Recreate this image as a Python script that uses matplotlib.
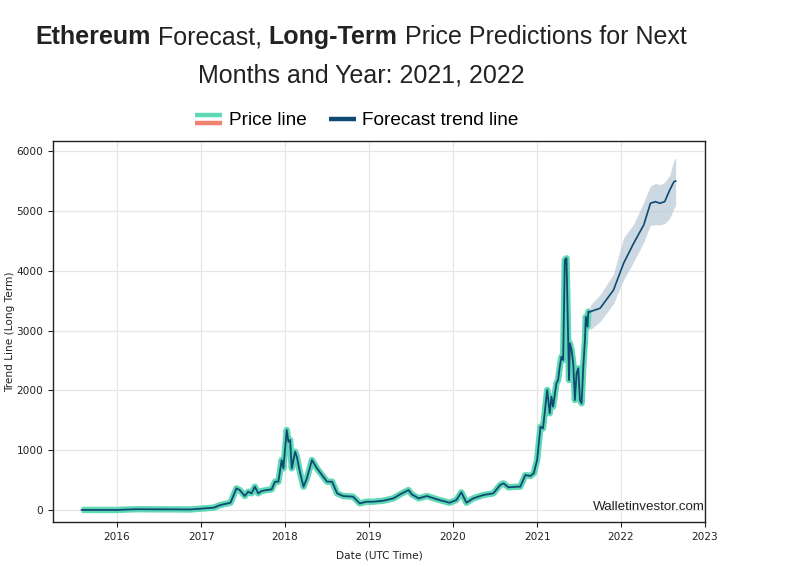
import matplotlib
matplotlib.use("Agg")
import matplotlib.pyplot as plt
import matplotlib.dates as mdates
from matplotlib.legend_handler import HandlerBase
from matplotlib.lines import Line2D
import pandas as pd
import numpy as np

# ---------------- data ----------------
price_years = [2015.58, 2015.75, 2016.0, 2016.15, 2016.25, 2016.45, 2016.7, 2016.87,
               2017.15, 2017.23, 2017.35, 2017.42, 2017.46, 2017.52, 2017.56, 2017.60,
               2017.64, 2017.68, 2017.72, 2017.78, 2017.84, 2017.88, 2017.92, 2017.96,
               2017.98, 2018.02, 2018.04, 2018.06, 2018.08, 2018.12, 2018.14, 2018.18,
               2018.22, 2018.26, 2018.32, 2018.38, 2018.44, 2018.50, 2018.56, 2018.62,
               2018.69, 2018.81, 2018.89, 2018.97, 2019.05, 2019.17, 2019.29, 2019.37,
               2019.47, 2019.51, 2019.59, 2019.69, 2019.81, 2019.96, 2020.04, 2020.10,
               2020.16, 2020.24, 2020.36, 2020.48, 2020.56, 2020.60, 2020.66, 2020.76,
               2020.80, 2020.86, 2020.92, 2020.96, 2020.98, 2021.00, 2021.04, 2021.07,
               2021.12, 2021.15, 2021.17, 2021.19, 2021.23, 2021.25, 2021.27, 2021.29,
               2021.31, 2021.33, 2021.35, 2021.37, 2021.38, 2021.39, 2021.41, 2021.43,
               2021.45, 2021.47, 2021.49, 2021.51, 2021.53, 2021.55, 2021.57, 2021.58,
               2021.60, 2021.61, 2021.63]
price_values = [2, 1, 1, 10, 14, 12, 11, 9,
                40, 84, 122, 362, 334, 234, 306, 279,
                390, 279, 318, 334, 346, 474, 474, 836,
                697, 1338, 1142, 1171, 697, 975, 891, 614,
                390, 530, 836, 697, 585, 474, 474, 279,
                234, 223, 111, 139, 139, 156, 195, 262,
                334, 262, 195, 234, 179, 122, 167, 296,
                122, 195, 251, 279, 418, 446, 380, 390,
                390, 585, 569, 614, 725, 836, 1394, 1365,
                2007, 1617, 1895, 1728, 2119, 2174, 2396, 2564,
                2508, 4181, 4209, 2843, 2174, 2787, 2676, 2453,
                1839, 2286, 2369, 1839, 1784, 2396, 2843, 3232,
                3065, 3316, 3316]

forecast_years = [2021.63, 2021.75, 2021.91, 2022.03, 2022.15, 2022.27, 2022.35,
                  2022.41, 2022.46, 2022.52, 2022.58, 2022.63, 2022.65]
forecast_mid = [3316, 3373, 3679, 4125, 4460, 4766, 5129, 5156, 5129, 5156, 5351, 5490, 5500]
forecast_hi = [3420, 3600, 3950, 4550, 4780, 5150, 5420, 5460, 5440, 5480, 5600, 5850, 5890]
forecast_lo = [3010, 3150, 3450, 3850, 4150, 4480, 4760, 4770, 4766, 4790, 4880, 5045, 5100]

year_ticks = [2016, 2017, 2018, 2019, 2020, 2021, 2022, 2023]
y_ticks = [0, 1000, 2000, 3000, 4000, 5000, 6000]


def to_dates(years):
    out = []
    for y in years:
        yr = int(np.floor(y))
        start = pd.Timestamp(year=yr, month=1, day=1)
        end = pd.Timestamp(year=yr + 1, month=1, day=1)
        out.append(start + (end - start) * (y - yr))
    return pd.to_datetime(out)


pdates = to_dates(price_years)
fdates = to_dates(forecast_years)

TEAL = "#5fd8b6"
SALMON = "#f08070"
NAVY = "#0f4a73"
BAND = "#bccbd9"

fig = plt.figure(figsize=(8.1, 5.67), dpi=100)
ax = fig.add_axes([53 / 810, 1 - 522 / 567, (705 - 53) / 810, (522 - 141) / 567])

ax.fill_between(fdates, forecast_lo, forecast_hi, color=BAND, alpha=0.75, linewidth=0, zorder=2)
ax.plot(pdates, price_values, color=TEAL, linewidth=4.6, solid_capstyle="butt",
        solid_joinstyle="round", zorder=3)
ax.plot(pdates, price_values, color=NAVY, linewidth=1.3, zorder=4)
ax.plot(fdates, forecast_mid, color=NAVY, linewidth=1.2, zorder=4)

ax.set_xlim(to_dates([2015.238])[0], pd.Timestamp("2023-01-01"))
ax.set_ylim(-200, 6170)
ax.set_xticks([pd.Timestamp(year=y, month=1, day=1) for y in year_ticks])
ax.xaxis.set_major_formatter(mdates.DateFormatter("%Y"))
ax.set_yticks(y_ticks)
ax.grid(True, color="#e6e6e6", linewidth=0.9)
ax.set_axisbelow(True)
ax.tick_params(labelsize=7.6, length=3.5, width=0.8, colors="#222222")
for s in ax.spines.values():
    s.set_linewidth(1.0)
    s.set_color("#222222")
ax.set_xlabel("Date (UTC Time)", fontsize=7.6, color="#222222")
ax.xaxis.set_label_coords(0.5, -(551 - 522) / 381)
ax.set_ylabel("Trend Line (Long Term)", fontsize=7.6, color="#222222")
ax.yaxis.set_label_coords(-(53 - 15) / 652, 0.5)

ax.text(0.999, 0.04, "Walletinvestor.com", transform=ax.transAxes, ha="right", va="center",
        fontsize=9.6, family="Liberation Sans", color="#222222", zorder=5)


# ----- legend -----
class PriceHandler(HandlerBase):
    def create_artists(self, legend, orig_handle, xdescent, ydescent, width, height, fontsize, trans):
        l1 = Line2D([-xdescent, width - xdescent], [height * 0.72 - ydescent] * 2,
                    color=TEAL, linewidth=3.2, transform=trans, solid_capstyle="butt")
        l2 = Line2D([-xdescent, width - xdescent], [height * 0.12 - ydescent] * 2,
                    color=SALMON, linewidth=3.2, transform=trans, solid_capstyle="butt")
        return [l1, l2]


class ForecastHandler(HandlerBase):
    def create_artists(self, legend, orig_handle, xdescent, ydescent, width, height, fontsize, trans):
        l1 = Line2D([-xdescent, width - xdescent], [height * 0.45 - ydescent] * 2,
                    color=NAVY, linewidth=3.2, transform=trans, solid_capstyle="butt")
        return [l1]


h1 = Line2D([], [], color=TEAL)
h2 = Line2D([], [], color=NAVY)
fig.legend([h1, h2], ["Price line", "Forecast trend line"], loc="center",
           bbox_to_anchor=(357 / 810, 1 - 120 / 567), ncol=2, frameon=False,
           prop={"family": "Liberation Sans", "size": 13.7},
           handler_map={h1: PriceHandler(), h2: ForecastHandler()},
           handlelength=1.4, handletextpad=0.35, columnspacing=1.2)


# ----- rich title -----
def rich_line(pieces, cx_px, cy_px, size):
    renderer = fig.canvas.get_renderer()
    texts = []
    widths = []
    for txt, weight in pieces:
        t = fig.text(0, 0, txt, fontsize=size, family="Liberation Sans", weight=weight,
                     color="#222222", ha="left", va="center")
        bb = t.get_window_extent(renderer=renderer)
        texts.append(t)
        widths.append(bb.width)
    total = sum(widths)
    x = cx_px - total / 2
    for t, w in zip(texts, widths):
        t.set_position((x / 810, 1 - cy_px / 567))
        x += w


rich_line([("Ethereum", "bold"), (" Forecast, ", "normal"), ("Long-Term", "bold"),
           (" Price Predictions for Next", "normal")], 361, 37, 18.0)
rich_line([("Months and Year: 2021, 2022", "normal")], 361, 76, 18.0)

fig.savefig("out.png", dpi=100)
